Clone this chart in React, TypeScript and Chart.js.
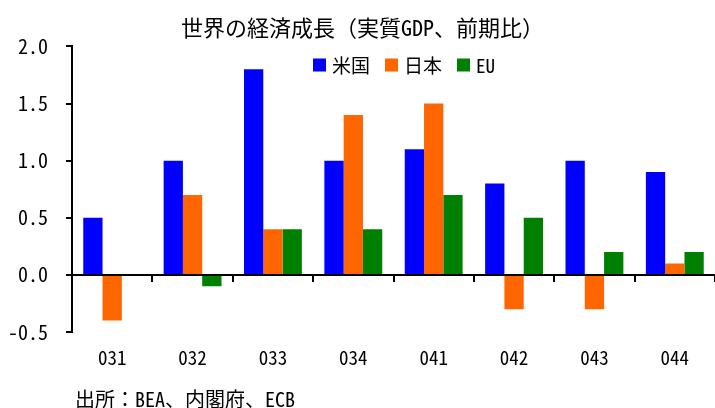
import React, { useEffect, useRef } from "react";
import { Chart, registerables } from "chart.js";

Chart.register(...registerables);

const categories = ["031", "032", "033", "034", "041", "042", "043", "044"];
const seriesNames = ["米国", "日本", "EU"];
const usValues = [0.5, 1.0, 1.8, 1.0, 1.1, 0.8, 1.0, 0.9];
const japanValues = [-0.4, 0.7, 0.4, 1.4, 1.5, -0.3, -0.3, 0.1];
const euValues = [0, -0.1, 0.4, 0.4, 0.7, 0.5, 0.2, 0.2];
const seriesColors = ["#0000FF", "#FF6600", "#008000"];
const titleText = "世界の経済成長（実質GDP、前期比）";
const sourceText = "出所：BEA、内閣府、ECB";
const yMin = -0.5;
const yMax = 2.0;
const yStep = 0.5;

const FONT = '"Noto Sans Mono CJK JP", "Noto Sans CJK JP", monospace';

const insideLegend = {
  id: "insideLegend",
  afterDraw(chart: any) {
    const ctx = chart.ctx;
    ctx.save();
    ctx.font = `19px ${FONT}`;
    ctx.textBaseline = "middle";
    ctx.textAlign = "left";
    let x = 313;
    const y = 65;
    chart.data.datasets.forEach((ds: any) => {
      ctx.fillStyle = ds.backgroundColor;
      ctx.fillRect(x, y - 6.5, 13, 13);
      x += 19;
      ctx.fillStyle = "#000";
      ctx.fillText(ds.label, x, y + 1);
      x += ctx.measureText(ds.label).width + 15;
    });
    ctx.restore();
  },
};

const sourceNote = {
  id: "sourceNote",
  afterDraw(chart: any) {
    const ctx = chart.ctx;
    ctx.save();
    ctx.font = `20px ${FONT}`;
    ctx.textBaseline = "middle";
    ctx.textAlign = "left";
    ctx.fillStyle = "#000";
    ctx.fillText(sourceText, 75, 399);
    ctx.restore();
  },
};

export default function App() {
  const canvasRef = useRef<HTMLCanvasElement | null>(null);

  useEffect(() => {
    if (!canvasRef.current) return;
    const datasets = [usValues, japanValues, euValues].map((vals, i) => ({
      label: seriesNames[i],
      data: vals,
      backgroundColor: seriesColors[i],
      borderWidth: 0,
      categoryPercentage: 0.72,
      barPercentage: 1.0,
    }));
    const chart = new Chart(canvasRef.current, {
      type: "bar",
      data: { labels: categories, datasets },
      plugins: [insideLegend, sourceNote],
      options: {
        responsive: false,
        animation: false,
        events: [],
        layout: { padding: { left: 10, right: 0, top: 0, bottom: 39 } },
        plugins: {
          legend: { display: false },
          tooltip: { enabled: false },
          title: {
            display: true,
            text: titleText,
            color: "#000",
            font: { family: FONT, size: 22, weight: "normal" },
            padding: { top: 14, bottom: 6 },
          },
        },
        scales: {
          x: {
            type: "category",
            position: "bottom",
            offset: true,
            grid: { display: false, drawTicks: false, offset: true },
            border: { display: false },
            ticks: {
              color: "#000",
              font: { family: FONT, size: 19 },
              padding: 14,
              maxRotation: 0,
              autoSkip: false,
            },
            afterFit: (s: any) => {
              s.height = 37;
            },
          },
          x2: {
            type: "category",
            axis: "x",
            position: { y: 0 },
            offset: true,
            grid: {
              drawOnChartArea: false,
              drawTicks: true,
              tickLength: 6,
              color: "#000",
              lineWidth: 2,
              offset: true,
            },
            border: { display: true, color: "#000", width: 2 },
            ticks: { display: false },
          },
          y: {
            type: "linear",
            min: yMin,
            max: yMax,
            ticks: {
              stepSize: yStep,
              color: "#000",
              font: { family: FONT, size: 20 },
              padding: 18,
              callback: (v: any) => Number(v).toFixed(1),
            },
            grid: {
              drawOnChartArea: false,
              drawTicks: true,
              tickLength: 6,
              color: "#000",
              lineWidth: 2,
            },
            border: { display: true, color: "#000", width: 2 },
            afterFit: (s: any) => {
              s.width = 62;
            },
          },
        },
      } as any,
    });
    return () => chart.destroy();
  }, []);

  return (
    <div style={{ position: "absolute", left: 0, top: 0, width: 715, height: 408 }}>
      <canvas ref={canvasRef} width={715} height={408} style={{ display: "block" }} />
    </div>
  );
}
